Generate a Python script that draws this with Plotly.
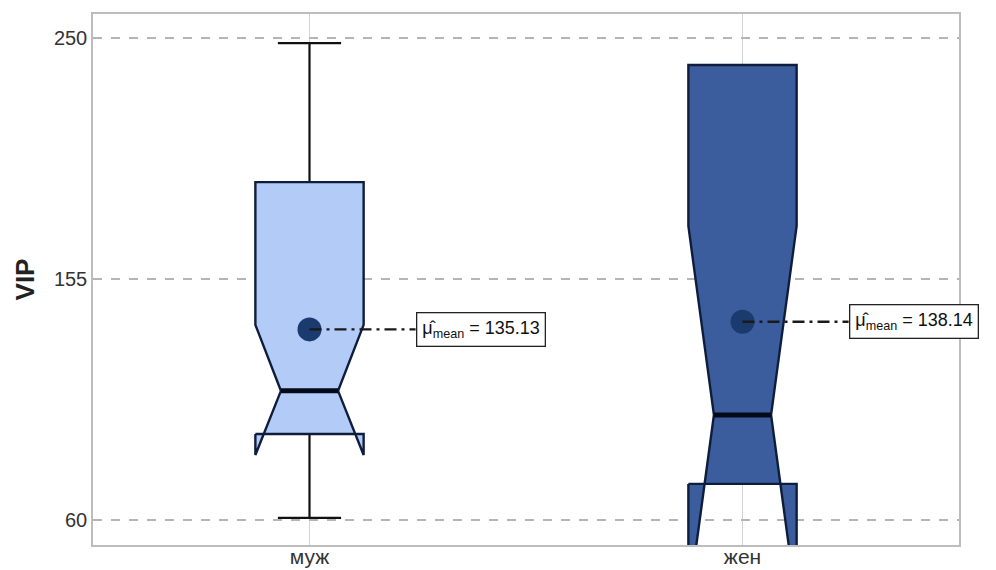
import plotly.graph_objects as go

# Group statistics for VIP by sex
categories = ["муж", "жен"]
q1 = [93.9, 74.2]
median = [110.9, 101.4]
q3 = [193.2, 239.4]
notch_lo = [85.6, 26.9]
notch_hi = [136.9, 175.9]
whisker_lo = [60.8, 74.2]
whisker_hi = [248.0, 239.4]
means = [135.13, 138.14]
y_ticks = [60, 155, 250]

fill_colors = ["#b3cbf7", "#3b5d9e"]
edge_color = "#0f1d3c"
box_half = 0.125
waist_half = 0.066
cap_half = 0.073
label_offset = 0.245

fig = go.Figure()
shapes = []
annotations = []

for i, cat in enumerate(categories):
    L, R = i - box_half, i + box_half
    cL, cR = i - waist_half, i + waist_half
    # whiskers with caps
    for y0, y1 in ((q1[i], whisker_lo[i]), (q3[i], whisker_hi[i])):
        if abs(y1 - y0) > 1e-9:
            fig.add_trace(go.Scatter(
                x=[i, i, None, i - cap_half, i + cap_half],
                y=[y0, y1, None, y1, y1],
                mode="lines", line=dict(color="#111111", width=2.2),
                hoverinfo="skip", showlegend=False))
    # notched box outline
    xs = [L, R, R, cR, R, R, L, L, cL, L, L]
    ys = [q1[i], q1[i], notch_lo[i], median[i], notch_hi[i], q3[i], q3[i],
          notch_hi[i], median[i], notch_lo[i], q1[i]]
    fig.add_trace(go.Scatter(
        x=xs, y=ys, mode="lines", fill="toself", fillcolor=fill_colors[i],
        line=dict(color=edge_color, width=2.4), hoverinfo="skip", showlegend=False))
    # median
    fig.add_trace(go.Scatter(
        x=[cL, cR], y=[median[i], median[i]], mode="lines",
        line=dict(color="#050a18", width=5), hoverinfo="skip", showlegend=False))
    # mean marker
    fig.add_trace(go.Scatter(
        x=[i], y=[means[i]], mode="markers",
        marker=dict(size=24, color="#1b3a6e"), hoverinfo="skip", showlegend=False))
    # dash-dot leader to the label
    shapes.append(dict(type="line", xref="x", yref="y", x0=i, x1=i + label_offset,
                       y0=means[i], y1=means[i],
                       line=dict(color="#1a1a1a", width=2.4, dash="12px,5px,3px,5px")))
    annotations.append(dict(
        x=i + label_offset, y=means[i], xref="x", yref="y", xanchor="left", yanchor="middle",
        text=f"μ̂<sub>mean</sub> = {means[i]:.2f}", showarrow=False,
        font=dict(family="Liberation Sans, Arial, sans-serif", size=18, color="#111111"),
        bgcolor="white", bordercolor="#222222", borderwidth=1.3, borderpad=5))

fig.update_layout(
    width=996, height=570,
    margin=dict(l=93, r=37, t=14, b=25),
    paper_bgcolor="white", plot_bgcolor="white",
    shapes=shapes, annotations=annotations,
    font=dict(family="Liberation Sans, Arial, sans-serif", color="#333333"),
    xaxis=dict(
        range=[-0.5, 1.5], tickvals=[0, 1], ticktext=categories, automargin=False,
        tickfont=dict(size=21, color="#333333"), ticks="", ticklen=0,
        ticklabelstandoff=-8,
        showgrid=True, gridcolor="#d2d2d2", gridwidth=1,
        showline=True, mirror=True, linecolor="#bdbdbd", linewidth=1.5,
        zeroline=False),
    yaxis=dict(
        range=[50.1, 259.5], tickvals=y_ticks, automargin=False,
        tickfont=dict(size=20, color="#333333"), ticks="",
        showgrid=True, gridcolor="#b5b5b5", gridwidth=1.5, griddash="dash",
        showline=True, mirror=True, linecolor="#bdbdbd", linewidth=1.5,
        zeroline=False,
        title=dict(text="<b>VIP</b>", font=dict(size=26, color="#222222"), standoff=12)),
)

fig.write_html("out.html")
